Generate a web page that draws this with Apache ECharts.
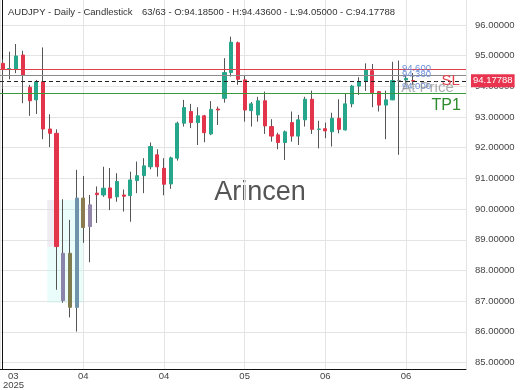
<!DOCTYPE html>
<html><head><meta charset="utf-8">
<script src="https://cdn.jsdelivr.net/npm/echarts@6/dist/echarts.min.js"></script>
<style>html,body{margin:0;padding:0;background:#fff}#c{width:520px;height:390px}</style>
</head><body><div id="c"></div>
<script>
// ---- data ----
const opens  = [94.75,94.57,94.56,95.02,93.97,93.56,94.15,92.61,92.47,87.02,88.56,86.80,90.36,89.43,90.52,90.46,90.69,90.40,90.46,90.44,90.93,91.09,91.38,91.77,91.33,90.82,91.66,92.80,93.18,92.82,93.04,92.45,93.26,93.61,94.45,95.42,94.21,93.21,93.07,93.53,92.69,92.42,92.17,92.82,92.38,92.91,93.58,92.60,92.62,92.52,92.96,92.58,93.43,94.01,94.18,94.51,93.83,93.39,93.56,94.19,94.21,94.185];
const highs  = [94.88,95.13,95.38,95.16,94.05,94.21,95.27,93.09,92.60,90.32,89.65,91.28,91.08,90.46,90.74,91.38,91.34,91.17,90.64,91.22,91.55,91.66,92.17,91.95,91.66,91.71,92.85,93.56,93.43,93.32,93.07,93.52,93.34,94.92,95.62,95.46,94.37,93.49,93.66,93.83,92.93,92.49,92.56,93.18,93.07,93.66,93.86,92.88,92.82,93.14,93.58,93.78,94.05,94.30,94.75,94.73,93.85,93.86,94.80,94.84,94.34,94.436];
const lows   = [93.91,94.23,94.43,93.45,93.04,93.10,92.28,92.02,87.37,86.95,86.47,86.01,88.90,88.27,89.55,90.40,89.97,90.24,89.92,89.59,90.52,90.52,91.30,91.06,90.45,90.66,91.58,92.69,92.64,92.09,92.18,92.41,92.74,93.47,94.32,94.05,92.85,92.69,92.85,92.45,92.20,91.95,91.60,92.20,92.09,92.69,92.45,91.98,92.31,92.04,92.47,92.56,93.32,93.72,93.85,93.32,93.18,92.28,93.55,91.77,94.05,94.05];
const closes = [94.56,94.58,94.99,94.37,93.53,94.15,92.61,92.47,88.78,88.56,86.80,90.36,89.40,90.14,90.47,90.68,90.36,90.90,90.42,90.95,91.09,91.41,92.04,91.38,90.81,91.67,92.80,93.31,92.82,93.04,92.49,93.25,93.23,94.45,95.44,94.23,93.23,93.43,93.53,92.71,92.38,92.17,92.52,92.38,92.91,93.58,92.60,92.61,92.55,92.96,92.60,93.43,94.01,94.15,94.53,93.79,93.39,93.56,94.19,94.18,94.26,94.17788];
const tickLabels = ['03\n2025', '04', '04', '05', '06', '06'];
const labelEvery = 12;                 // candles between month labels
const levelSL = 94.56, levelEntry = 94.35, levelTP1 = 93.78;
const lastPrice = closes[closes.length - 1];
const priceTags = [['94.600', 94.600], ['94.380', 94.380], ['94.000', 94.000]];
const zonePink = [[6.64, 90.30], [8.53, 88.78]];
const zoneCyan = [[6.64, 90.30], [12.0, 86.94]];
const header1 = 'AUDJPY - Daily - Candlestick';
const header2 = '63/63 - O:94.18500 - H:94.43600 - L:94.05000 - C:94.17788';

// ---- styles ----
const FONT = '"Liberation Sans", Arial, sans-serif';
const UP = '#26a68a', DOWN = '#e2344a', WICK = '#555';
const mutedBody = {9:'#8a84aa', 10:'#7f7d4e', 11:'#6f93a8', 12:'#8b7b50', 13:'#9384aa', 59:'#8a8a8a'};

const wickData = opens.map((o, i) => [i, o, closes[i], lows[i], highs[i]]);
const bodyData = opens.map((o, i) => {
  const c = closes[i];
  const v = [i, o, c, Math.min(o, c), Math.max(o, c)];
  const m = mutedBody[i];
  return m ? {value: v, itemStyle: {color: m, color0: m, borderColor: m, borderColor0: m}} : v;
});

const firstParts = tickLabels[0].split('\n');
const chart = echarts.init(document.getElementById('c'), null, {renderer: 'canvas'});
chart.setOption({
  animation: false,
  backgroundColor: '#fff',
  grid: {left: 0, right: 54, top: -5.7, bottom: 21, containLabel: false, outerBoundsMode: 'none'},
  xAxis: {
    type: 'value', min: -0.4, max: 68.94, minInterval: labelEvery, maxInterval: labelEvery,
    axisLine: {show: true, onZero: false, lineStyle: {color: '#111', width: 1}},
    axisTick: {show: false},
    splitLine: {show: true, lineStyle: {color: '#e4e4e4', width: 1}},
    axisLabel: {
      color: '#444', fontSize: 9.5, fontFamily: FONT, margin: 3, lineHeight: 9,
      showMinLabel: true, showMaxLabel: false, alignMinLabel: 'left',
      rich: {p: {padding: [0, 0, 0, 8], fontSize: 9.5, fontFamily: FONT, color: '#444'},
             q: {padding: [0, 0, 0, 3], fontSize: 9.5, fontFamily: FONT, color: '#444'}},
      formatter: function (v) {
        if (v < -0.01) return '{p|' + firstParts[0] + '}\n{q|' + firstParts[1] + '}';
        const k = v / labelEvery;
        if (v > 0.01 && Math.abs(k - Math.round(k)) < 1e-6) return tickLabels[Math.round(k)] || '';
        return '';
      }
    }
  },
  yAxis: {
    type: 'value', position: 'right', min: 84.79, max: 97, minInterval: 1, maxInterval: 1,
    axisLine: {show: true, lineStyle: {color: '#111', width: 1}},
    axisTick: {show: false},
    splitLine: {show: true, lineStyle: {color: '#e4e4e4', width: 1}},
    axisLabel: {color: '#444', fontSize: 9.5, fontFamily: FONT, margin: 9, showMinLabel: false,
      formatter: v => v.toFixed(5)}
  },
  graphic: [
    {type: 'text', x: 8, y: 12, z: 10, style: {text: header1, fill: '#333', font: '9.5px ' + FONT, textVerticalAlign: 'middle'}},
    {type: 'text', x: 142, y: 12, z: 10, style: {text: header2, fill: '#333', font: '9.5px ' + FONT, textVerticalAlign: 'middle'}},
    {type: 'text', x: 260, y: 193, z: 0, style: {text: 'Arincen', fill: '#555', font: '27px ' + FONT, textAlign: 'center', textVerticalAlign: 'middle'}}
  ],
  series: [
    {type: 'line', data: [], z: 1, silent: true,
      markArea: {silent: true, data: [
        [{coord: zoneCyan[0], itemStyle: {color: 'rgba(190,248,242,0.3)'}}, {coord: zoneCyan[1]}],
        [{coord: zonePink[0], itemStyle: {color: 'rgba(252,200,230,0.35)'}}, {coord: zonePink[1]}]
      ]}},
    {type: 'candlestick', name: 'wick', data: wickData, barWidth: 1, z: 2, silent: true,
      itemStyle: {color: WICK, color0: WICK, borderColor: WICK, borderColor0: WICK, borderWidth: 1}},
    {type: 'candlestick', name: 'body', data: bodyData, barWidth: 3.6, z: 3, silent: true,
      itemStyle: {color: UP, color0: DOWN, borderColor: UP, borderColor0: DOWN, borderWidth: 1}},
    {type: 'line', data: [], z: 4, silent: true,
      markLine: {symbol: 'none', silent: true, data: [
        {yAxis: levelSL, lineStyle: {color: '#e0404c', type: 'solid', width: 1}, label: {show: false}},
        {yAxis: levelEntry, lineStyle: {color: '#8a8a8a', type: 'solid', width: 1}, label: {show: false}},
        {yAxis: levelTP1, lineStyle: {color: '#3a9a3a', type: 'solid', width: 1}, label: {show: false}},
        {yAxis: lastPrice, lineStyle: {color: '#222', type: [4, 3], width: 1.2},
          label: {show: true, position: 'end', distance: 5, formatter: lastPrice.toFixed(5), backgroundColor: '#e8344e',
            color: '#fff', fontSize: 9.5, fontFamily: FONT, padding: [2, 2, 1, 2]}}
      ]},
      markPoint: {symbol: 'circle', symbolSize: 1, silent: true, itemStyle: {color: 'rgba(0,0,0,0)'},
        data: priceTags.map(t => ({coord: [59.4, t[1]],
          label: {show: true, position: 'inside', align: 'left', verticalAlign: 'middle', formatter: t[0],
            color: '#6d8fd9', fontSize: 9.5, fontFamily: FONT}})).concat([
          {coord: [59.3, 93.96], label: {show: true, position: 'inside', align: 'left', verticalAlign: 'middle', formatter: 'At Price', color: 'rgba(140,140,140,0.7)', fontSize: 15, fontFamily: FONT}},
          {coord: [65.3, 94.18], label: {show: true, position: 'inside', align: 'left', verticalAlign: 'middle', formatter: 'SL', color: '#e0404c', fontSize: 15, fontFamily: FONT}},
          {coord: [63.8, 93.38], label: {show: true, position: 'inside', align: 'left', verticalAlign: 'middle', formatter: 'TP1', color: '#2e8b2e', fontSize: 16, fontFamily: FONT}}
        ])}}
  ]
});
</script></body></html>
